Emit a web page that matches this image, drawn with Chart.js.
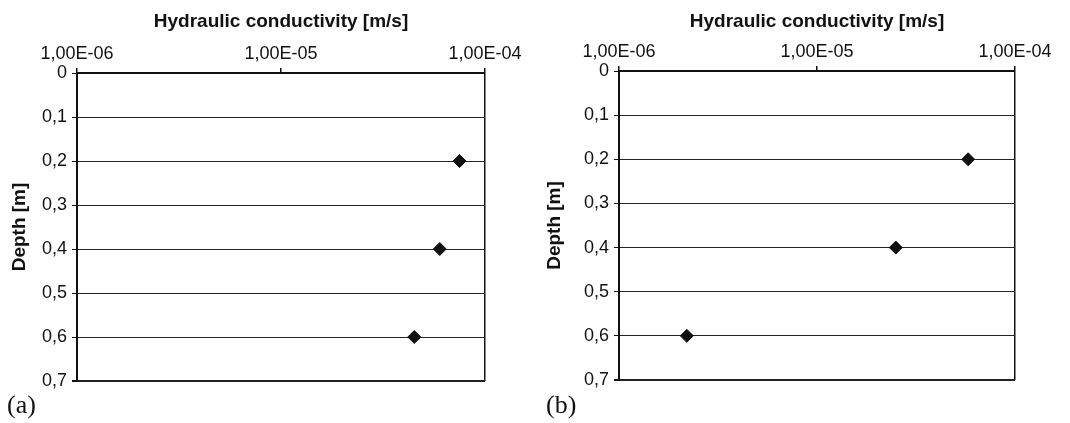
<!DOCTYPE html>
<html>
<head>
<meta charset="utf-8">
<script src="https://cdn.jsdelivr.net/npm/chart.js@4.4.0/dist/chart.umd.min.js"></script>
<style>
  html, body { margin: 0; padding: 0; background: #fff; }
  #wrap { position: relative; width: 1070px; height: 423px; overflow: hidden; }
  .panel { position: absolute; top: 0; width: 535px; height: 423px; }
  .tag { position: absolute; top: 390px; font-family: "Liberation Serif", "Times New Roman", serif; font-size: 26px; color: #111; }
</style>
</head>
<body>
<div id="wrap">
  <div class="panel" style="left:0"><canvas id="chartA" width="535" height="423"></canvas></div>
  <div class="panel" style="left:535px"><canvas id="chartB" width="535" height="423"></canvas></div>
  <div class="tag" style="left:7px">(a)</div>
  <div class="tag" style="left:546px">(b)</div>
</div>
<script>
// data
const depths = [0.2, 0.4, 0.6];
const conductivityA = [7.5e-5, 6.0e-5, 4.5e-5];
const conductivityB = [5.8e-5, 2.5e-5, 2.2e-6];

const xTicks = [1e-6, 1e-5, 1e-4];
const xTickLabels = ["1,00E-06", "1,00E-05", "1,00E-04"];
const yTicks = [0, 0.1, 0.2, 0.3, 0.4, 0.5, 0.6, 0.7];
const yTickLabels = ["0", "0,1", "0,2", "0,3", "0,4", "0,5", "0,6", "0,7"];

const fontFamily = '"Liberation Sans", Arial, sans-serif';
const ink = "#111";

function makeChart(id, values, box) {
    const ctx = document.getElementById(id).getContext("2d");
    return new Chart(ctx, {
        type: "scatter",
        data: {
            datasets: [
                {
                    data: values.map((v, i) => ({ x: v, y: depths[i] })),
                    pointStyle: "rectRot",
                    pointRadius: 6.5,
                    backgroundColor: ink,
                    borderColor: ink,
                    borderWidth: 1,
                },
            ],
        },
        options: {
            responsive: false,
            animation: false,
            layout: {
                padding: { left: 0, top: 0, right: box.right, bottom: box.bottom },
            },
            plugins: {
                legend: { display: false },
                tooltip: { enabled: false },
            },
            scales: {
                x: {
                    type: "logarithmic",
                    position: "top",
                    min: 1e-6,
                    max: 1e-4,
                    afterBuildTicks: (scale) => {
                        scale.ticks = xTicks.map((v) => ({ value: v }));
                    },
                    afterFit: (scale) => {
                        scale.height = box.top;
                    },
                    ticks: {
                        autoSkip: false,
                        maxRotation: 0,
                        padding: 3,
                        color: ink,
                        font: { family: fontFamily, size: 18 },
                        callback: (value, index) => xTickLabels[index],
                    },
                    grid: {
                        color: (c) => (c.tick && c.tick.value === 1e-4 ? ink : "rgba(0,0,0,0)"),
                        tickColor: ink,
                        lineWidth: 1.5,
                        tickLength: 5,
                    },
                    border: { color: ink, width: 2 },
                    title: {
                        display: true,
                        text: "Hydraulic conductivity [m/s]",
                        color: ink,
                        padding: { top: 10, bottom: 0 },
                        font: { family: fontFamily, size: 19, weight: "bold", lineHeight: 1.2 },
                    },
                },
                y: {
                    type: "linear",
                    reverse: true,
                    min: 0,
                    max: 0.7,
                    afterBuildTicks: (scale) => {
                        scale.ticks = yTicks.map((v) => ({ value: v }));
                    },
                    afterFit: (scale) => {
                        scale.width = box.left;
                    },
                    ticks: {
                        autoSkip: false,
                        padding: 5,
                        color: ink,
                        font: { family: fontFamily, size: 18 },
                        callback: (value, index) => yTickLabels[index],
                    },
                    grid: {
                        color: "#222",
                        tickColor: ink,
                        lineWidth: (c) => (c.index === yTicks.length - 1 ? 2 : 1),
                        tickLength: 5,
                    },
                    border: { color: ink, width: 2 },
                    title: {
                        display: true,
                        text: "Depth [m]",
                        color: ink,
                        padding: { top: 8, bottom: 0 },
                        font: { family: fontFamily, size: 19, weight: "bold", lineHeight: 1.2 },
                    },
                },
            },
        },
    });
}

makeChart("chartA", conductivityA, { left: 77, top: 73, right: 50, bottom: 42 });
makeChart("chartB", conductivityB, { left: 84, top: 71, right: 55, bottom: 43 });
</script>
</body>
</html>
